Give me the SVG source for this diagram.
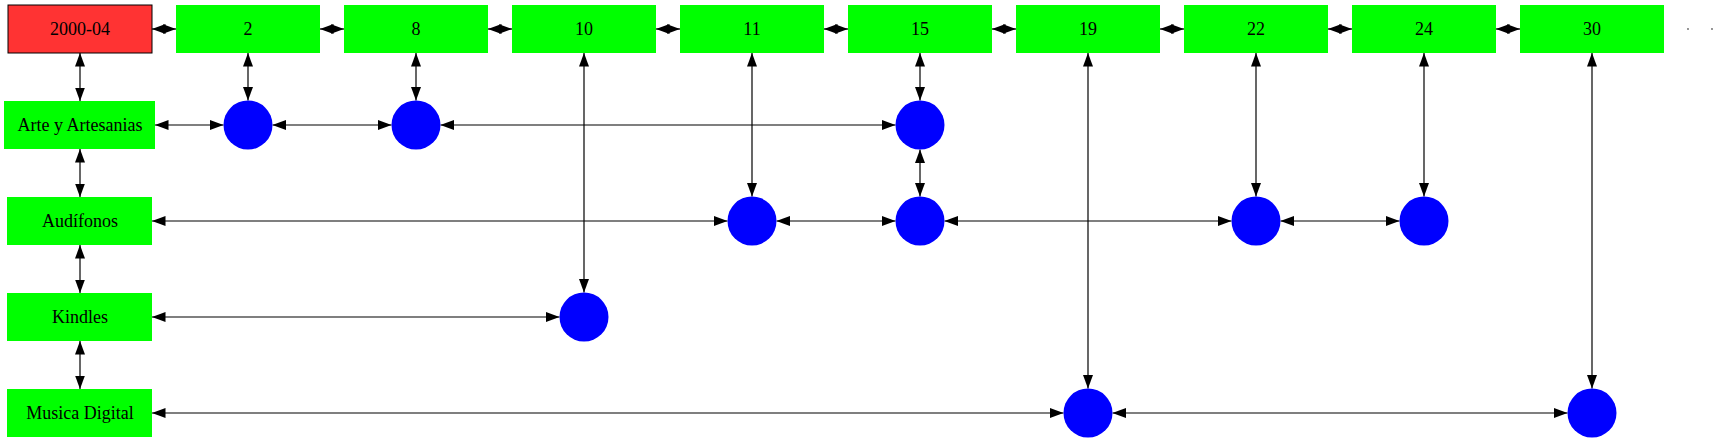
<svg xmlns="http://www.w3.org/2000/svg" width="1717" height="443" viewBox="0 0 1717 443">
<style>
.box{fill:#00ff00;stroke:none}
.red{fill:#ff3333;stroke:#000;stroke-width:1}
.dot{fill:#0000ff}
.lbl{font-family:"Liberation Serif","Times New Roman",serif;font-size:18px;fill:#000;text-anchor:middle}
.e{stroke:#000;stroke-width:1.2;fill:none;marker-start:url(#a);marker-end:url(#a)}
</style>
<defs>
<marker id="a" viewBox="0 0 13.5 10" refX="13.5" refY="5" markerWidth="13.5" markerHeight="10" markerUnits="userSpaceOnUse" orient="auto-start-reverse">
<path d="M0,0 L13.5,5 L0,10 z" fill="#000"/>
</marker>
</defs>
<g id="edges">
<line class="e" x1="152" y1="29" x2="176" y2="29"/>
<line class="e" x1="320" y1="29" x2="344" y2="29"/>
<line class="e" x1="488" y1="29" x2="512" y2="29"/>
<line class="e" x1="656" y1="29" x2="680" y2="29"/>
<line class="e" x1="824" y1="29" x2="848" y2="29"/>
<line class="e" x1="992" y1="29" x2="1016" y2="29"/>
<line class="e" x1="1160" y1="29" x2="1184" y2="29"/>
<line class="e" x1="1328" y1="29" x2="1352" y2="29"/>
<line class="e" x1="1496" y1="29" x2="1520" y2="29"/>
<line class="e" x1="80" y1="53" x2="80" y2="101"/>
<line class="e" x1="80" y1="149" x2="80" y2="197"/>
<line class="e" x1="80" y1="245" x2="80" y2="293"/>
<line class="e" x1="80" y1="341" x2="80" y2="389"/>
<line class="e" x1="248" y1="53" x2="248" y2="100.5"/>
<line class="e" x1="416" y1="53" x2="416" y2="100.5"/>
<line class="e" x1="584" y1="53" x2="584" y2="292.5"/>
<line class="e" x1="752" y1="53" x2="752" y2="196.5"/>
<line class="e" x1="920" y1="53" x2="920" y2="100.5"/>
<line class="e" x1="920" y1="149.5" x2="920" y2="196.5"/>
<line class="e" x1="1088" y1="53" x2="1088" y2="388.5"/>
<line class="e" x1="1256" y1="53" x2="1256" y2="196.5"/>
<line class="e" x1="1424" y1="53" x2="1424" y2="196.5"/>
<line class="e" x1="1592" y1="53" x2="1592" y2="388.5"/>
<line class="e" x1="155" y1="125" x2="223.5" y2="125"/>
<line class="e" x1="272.5" y1="125" x2="391.5" y2="125"/>
<line class="e" x1="440.5" y1="125" x2="895.5" y2="125"/>
<line class="e" x1="152" y1="221" x2="727.5" y2="221"/>
<line class="e" x1="776.5" y1="221" x2="895.5" y2="221"/>
<line class="e" x1="944.5" y1="221" x2="1231.5" y2="221"/>
<line class="e" x1="1280.5" y1="221" x2="1399.5" y2="221"/>
<line class="e" x1="152" y1="317" x2="559.5" y2="317"/>
<line class="e" x1="152" y1="413" x2="1063.5" y2="413"/>
<line class="e" x1="1112.5" y1="413" x2="1567.5" y2="413"/>
</g>
<g id="n2000-04"><rect class="red" x="8" y="5" width="144" height="48"/><text class="lbl" x="80" y="35">2000-04</text></g>
<g id="t2"><rect class="box" x="176" y="5" width="144" height="48"/><text class="lbl" x="248" y="35">2</text></g>
<g id="t8"><rect class="box" x="344" y="5" width="144" height="48"/><text class="lbl" x="416" y="35">8</text></g>
<g id="t10"><rect class="box" x="512" y="5" width="144" height="48"/><text class="lbl" x="584" y="35">10</text></g>
<g id="t11"><rect class="box" x="680" y="5" width="144" height="48"/><text class="lbl" x="752" y="35">11</text></g>
<g id="t15"><rect class="box" x="848" y="5" width="144" height="48"/><text class="lbl" x="920" y="35">15</text></g>
<g id="t19"><rect class="box" x="1016" y="5" width="144" height="48"/><text class="lbl" x="1088" y="35">19</text></g>
<g id="t22"><rect class="box" x="1184" y="5" width="144" height="48"/><text class="lbl" x="1256" y="35">22</text></g>
<g id="t24"><rect class="box" x="1352" y="5" width="144" height="48"/><text class="lbl" x="1424" y="35">24</text></g>
<g id="t30"><rect class="box" x="1520" y="5" width="144" height="48"/><text class="lbl" x="1592" y="35">30</text></g>
<g id="tail"><circle cx="1688" cy="29" r="0.9" fill="#666"/><circle cx="1712" cy="29" r="0.9" fill="#666"/></g>
<g id="arte"><rect class="box" x="4" y="101" width="151" height="48"/><text class="lbl" x="80" y="131">Arte y Artesanias</text></g>
<g id="audifonos"><rect class="box" x="7" y="197" width="145" height="48"/><text class="lbl" x="80" y="227">Audífonos</text></g>
<g id="kindles"><rect class="box" x="7" y="293" width="145" height="48"/><text class="lbl" x="80" y="323">Kindles</text></g>
<g id="musica"><rect class="box" x="7" y="389" width="145" height="48"/><text class="lbl" x="80" y="419">Musica Digital</text></g>
<g id="c_arte_2"><circle class="dot" cx="248" cy="125" r="24.5"/></g>
<g id="c_arte_8"><circle class="dot" cx="416" cy="125" r="24.5"/></g>
<g id="c_arte_15"><circle class="dot" cx="920" cy="125" r="24.5"/></g>
<g id="c_aud_11"><circle class="dot" cx="752" cy="221" r="24.5"/></g>
<g id="c_aud_15"><circle class="dot" cx="920" cy="221" r="24.5"/></g>
<g id="c_aud_22"><circle class="dot" cx="1256" cy="221" r="24.5"/></g>
<g id="c_aud_24"><circle class="dot" cx="1424" cy="221" r="24.5"/></g>
<g id="c_kin_10"><circle class="dot" cx="584" cy="317" r="24.5"/></g>
<g id="c_mus_19"><circle class="dot" cx="1088" cy="413" r="24.5"/></g>
<g id="c_mus_30"><circle class="dot" cx="1592" cy="413" r="24.5"/></g>
</svg>
